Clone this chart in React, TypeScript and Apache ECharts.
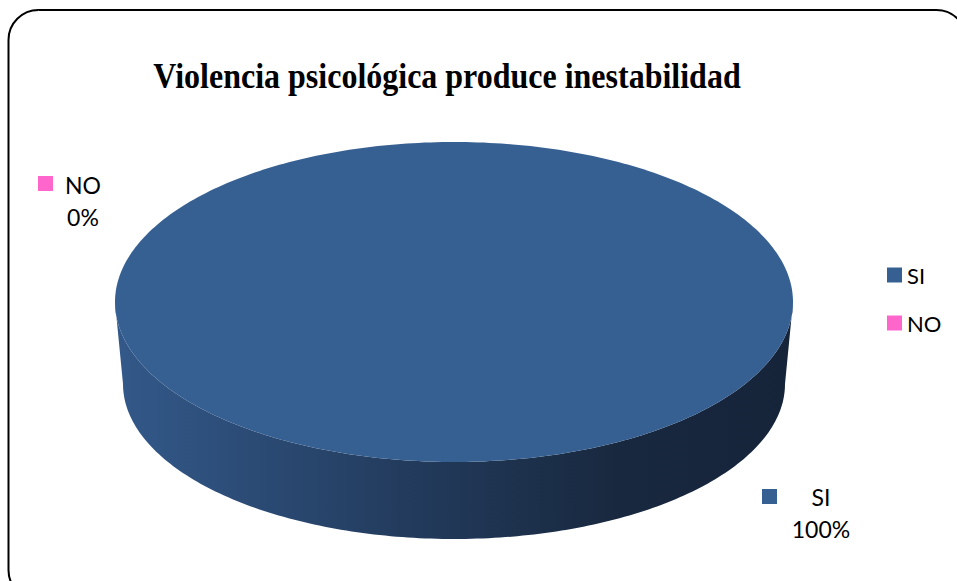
import React, { useEffect, useRef } from "react";
import * as echarts from "echarts";

// ---- data ----
const categories = ["SI", "NO"];
const values = [100, 0];
const colors = ["#376092", "#ff66cc"];
const titleText = "Violencia psicológica produce inestabilidad";

// ---- layout ----
const PIE = { cx: 454, cy: 302, rx: 339, ry: 160, depth: 82, rxB: 331, ryB: 155 };
const LABELS = [
  { mx: 762, my: 489, tx: 821, y1: 497, y2: 529 },
  { mx: 38, my: 176, tx: 83, y1: 185, y2: 217 },
];
const FONT = "Lato";

const total = values.reduce((a, b) => a + b, 0);

function arcPts(cx: number, cy: number, rx: number, ry: number, a0: number, a1: number) {
  const n = Math.max(2, Math.ceil(Math.abs(a1 - a0) / (Math.PI / 180)));
  const pts: number[][] = [];
  for (let i = 0; i <= n; i++) {
    const t = a0 + ((a1 - a0) * i) / n;
    pts.push([cx + rx * Math.cos(t), cy + ry * Math.sin(t)]);
  }
  return pts;
}

function makeRenderItem(s: number) {
  return () => {
    const cum = values.slice(0, s).reduce((a, b) => a + b, 0);
    const frac = values[s] / total;
    const start = -Math.PI / 2 + (2 * Math.PI * cum) / total;
    const end = start + 2 * Math.PI * frac;
    const children: any[] = [];
    const sideFill = {
      type: "linear",
      x: PIE.cx - PIE.rx,
      y: 0,
      x2: PIE.cx + PIE.rx,
      y2: 0,
      global: true,
      colorStops: [
        { offset: 0, color: "#33598a" },
        { offset: 0.45, color: "#223a5b" },
        { offset: 0.75, color: "#18283e" },
        { offset: 1, color: "#16243a" },
      ],
    };
    if (frac > 0) {
      for (let k = -1; k <= 1; k++) {
        const lo = Math.max(start, 2 * Math.PI * k);
        const hi = Math.min(end, 2 * Math.PI * k + Math.PI);
        if (hi > lo) {
          const top = arcPts(PIE.cx, PIE.cy, PIE.rx, PIE.ry, lo, hi);
          const bot = arcPts(PIE.cx, PIE.cy + PIE.depth, PIE.rxB, PIE.ryB, hi, lo);
          children.push({
            type: "polygon",
            shape: { points: top.concat(bot) },
            style: { fill: sideFill, stroke: null },
          });
        }
      }
      const topPts =
        frac >= 1
          ? arcPts(PIE.cx, PIE.cy, PIE.rx, PIE.ry, start, end)
          : [[PIE.cx, PIE.cy]].concat(arcPts(PIE.cx, PIE.cy, PIE.rx, PIE.ry, start, end));
      children.push({
        type: "polygon",
        shape: { points: topPts },
        style: { fill: colors[s], stroke: null },
      });
    }
    const L = LABELS[s];
    const pct = Math.round(frac * 100) + "%";
    children.push({
      type: "rect",
      shape: { x: L.mx, y: L.my, width: 15, height: 15 },
      style: { fill: colors[s] },
    });
    [categories[s], pct].forEach((t, i) => {
      children.push({
        type: "text",
        x: L.tx,
        y: i === 0 ? L.y1 : L.y2,
        style: {
          text: t,
          fill: "#000",
          font: `23px ${FONT}`,
          align: "center",
          textAlign: "center",
          verticalAlign: "middle",
          textVerticalAlign: "middle",
        },
      });
    });
    return { type: "group", children };
  };
}

export default function App() {
  const ref = useRef<HTMLDivElement>(null);
  useEffect(() => {
    if (!ref.current) return;
    const chart = echarts.init(ref.current, null, { renderer: "svg" });
    chart.setOption({
      animation: false,
      backgroundColor: "#fff",
      legend: {
        data: categories,
        orient: "vertical",
        left: 882,
        top: 259,
        icon: "rect",
        itemWidth: 15,
        itemHeight: 15,
        itemGap: 26,
        textStyle: { fontSize: 22, fontFamily: FONT, color: "#000", lineHeight: 21 },
      },
      graphic: [
        {
          type: "rect",
          shape: { x: 8.5, y: 10, width: 958, height: 590, r: 30 },
          style: { fill: "none", stroke: "#000", lineWidth: 2 },
          silent: true,
        },
        {
          type: "text",
          x: 447,
          y: 75,
          scaleY: 1.15,
          style: {
            text: titleText,
            font: "bold 32px 'Liberation Serif'",
            fill: "#000",
            align: "center",
            textAlign: "center",
            verticalAlign: "middle",
            textVerticalAlign: "middle",
          },
        },
      ],
      series: categories.map((name, s) => ({
        type: "custom",
        name,
        coordinateSystem: "none",
        itemStyle: { color: colors[s] },
        data: [[values[s]]],
        renderItem: makeRenderItem(s),
        silent: true,
      })),
    });
    return () => chart.dispose();
  }, []);
  return (
    <div
      ref={ref}
      style={{ position: "absolute", left: 0, top: 0, width: 957, height: 581 }}
    />
  );
}
